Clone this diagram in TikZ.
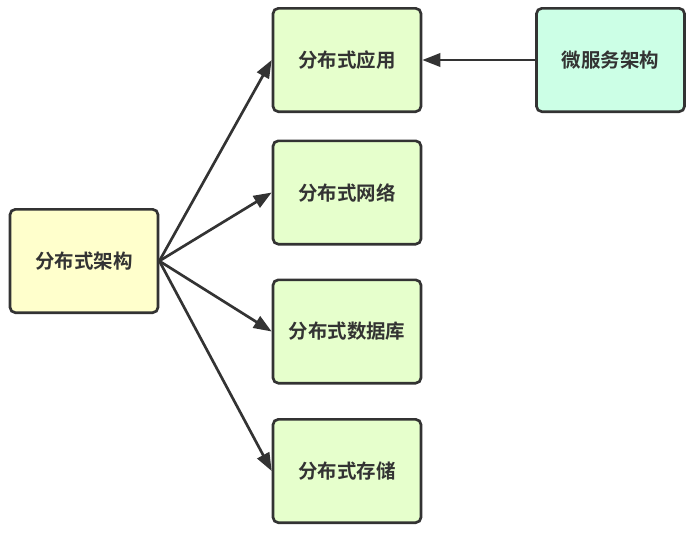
\documentclass[tikz,border=0pt]{standalone}
\usepackage{fontspec}
\newfontfamily\cjk{Noto Sans CJK SC}[BoldFont={Noto Sans CJK SC Bold}]
\usetikzlibrary{arrows.meta}
\definecolor{edge}{HTML}{333333}
\definecolor{yel}{HTML}{FFFFCC}
\definecolor{grn}{HTML}{E6FFCC}
\definecolor{mint}{HTML}{CCFFE6}
\tikzset{
  box/.style={draw=edge, line width=2pt, rounded corners=4pt,
    minimum width=111pt, minimum height=77.5pt, inner sep=0pt,
    font=\cjk\bfseries\fontsize{14.6pt}{16pt}\selectfont, text=edge},
  conn/.style={draw=edge, line width=2pt, -{Triangle[length=13.5pt,width=10pt]}}
}
\begin{document}
\begin{tikzpicture}[x=0.75pt,y=-0.75pt]
\useasboundingbox (0,0) rectangle (696,533);
\node[box, fill=yel] (arch) at (84,261) {分布式架构};
\node[box, fill=grn] (app) at (347,60) {分布式应用};
\node[box, fill=grn] (net) at (347,192.5) {分布式网络};
\node[box, fill=grn] (db) at (347,331.5) {分布式数据库};
\node[box, fill=grn] (store) at (347,471) {分布式存储};
\node[box, fill=mint] (micro) at (610.5,60) {微服务架构};
\draw[conn] (arch.east) -- (app.west);
\draw[conn] (arch.east) -- (net.west);
\draw[conn] (arch.east) -- (db.west);
\draw[conn] (arch.east) -- (store.west);
\draw[conn] (micro.west) -- (app.east);
\end{tikzpicture}
\end{document}
